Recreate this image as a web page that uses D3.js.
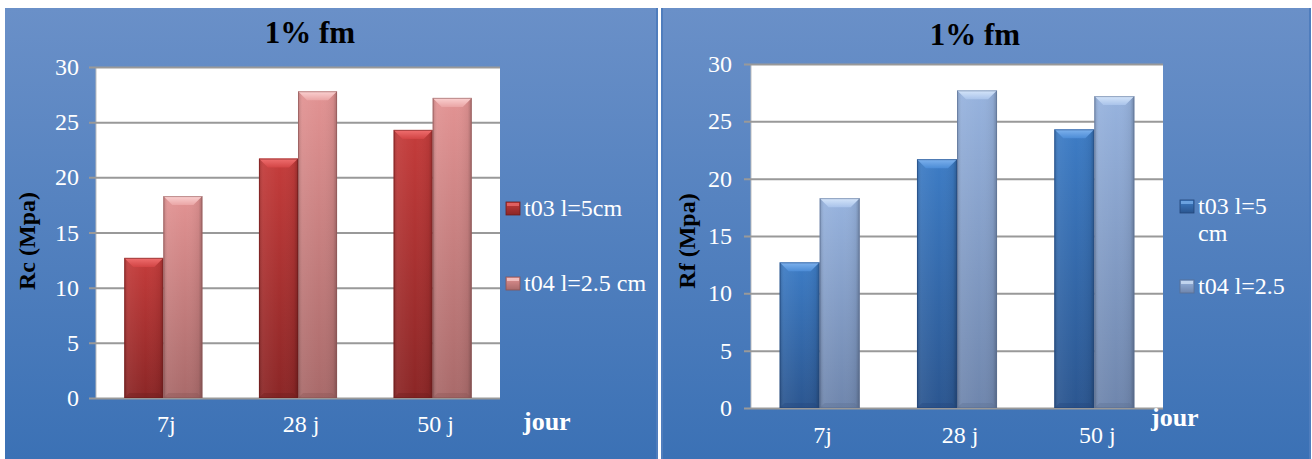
<!DOCTYPE html>
<html>
<head>
<meta charset="utf-8">
<script src="https://cdn.jsdelivr.net/npm/d3@7"></script>
<style>
  html, body { margin: 0; padding: 0; background: #ffffff; }
  svg { display: block; }
</style>
</head>
<body>
<svg id="chart" width="1312" height="459"></svg>
<script>
// Curing ages shared by both charts
const categories = ["7j", "28 j", "50 j"];
const yTicks = [0, 5, 10, 15, 20, 25, 30];

// Compressive strength Rc (MPa)
const rcT03 = [12.7, 21.7, 24.3];
const rcT04 = [18.3, 27.8, 27.2];

// Flexural strength Rf (MPa)
const rfT03 = [12.7, 21.7, 24.3];
const rfT04 = [18.3, 27.7, 27.2];

const rcLegend = [["t03 l=5cm"], ["t04 l=2.5 cm"]];
const rfLegend = [["t03 l=5", "cm"], ["t04 l=2.5"]];

const FONT = "'Liberation Serif', 'Times New Roman', Times, 'DejaVu Serif', serif";

const svg = d3.select("#chart").attr("font-family", FONT);
const defs = svg.append("defs");

// Panel background gradient
const bg = defs.append("linearGradient").attr("id", "bgGrad")
  .attr("x1", 0).attr("y1", 0).attr("x2", 0).attr("y2", 1);
bg.append("stop").attr("offset", "0%").attr("stop-color", "#6a90c8");
bg.append("stop").attr("offset", "100%").attr("stop-color", "#3b71b5");

// Bar palettes: body top/bottom, cap light/dark, edge
const palettes = {
  darkRed:  { top: "#c43c3b", bottom: "#8b2626", capA: "#f07070", capB: "#d24545", edge: "#6e1c1c" },
  lightRed: { top: "#e29393", bottom: "#a96a6a", capA: "#fbd2d2", capB: "#eaa5a5", edge: "#8a5454" },
  darkBlue: { top: "#3d7cc5", bottom: "#2b5690", capA: "#7fb3ee", capB: "#4c8cd6", edge: "#23467a" },
  lightBlue:{ top: "#97b3de", bottom: "#6f86ad", capA: "#d6e6fa", capB: "#a9c3ea", edge: "#5b6f92" }
};

Object.entries(palettes).forEach(([key, p]) => {
  const g = defs.append("linearGradient").attr("id", "body-" + key)
    .attr("x1", 0).attr("y1", 0).attr("x2", 0).attr("y2", 1);
  g.append("stop").attr("offset", "0%").attr("stop-color", p.top);
  g.append("stop").attr("offset", "100%").attr("stop-color", p.bottom);
  const c = defs.append("linearGradient").attr("id", "cap-" + key)
    .attr("x1", 0).attr("y1", 0).attr("x2", 0).attr("y2", 1);
  c.append("stop").attr("offset", "0%").attr("stop-color", p.capA);
  c.append("stop").attr("offset", "100%").attr("stop-color", p.capB);
  // horizontal sheen across the bar face
  const s = defs.append("linearGradient").attr("id", "sheen-" + key)
    .attr("x1", 0).attr("y1", 0).attr("x2", 1).attr("y2", 0);
  s.append("stop").attr("offset", "0%").attr("stop-color", "#000").attr("stop-opacity", 0.18);
  s.append("stop").attr("offset", "12%").attr("stop-color", "#fff").attr("stop-opacity", 0.06);
  s.append("stop").attr("offset", "55%").attr("stop-color", "#fff").attr("stop-opacity", 0.0);
  s.append("stop").attr("offset", "90%").attr("stop-color", "#000").attr("stop-opacity", 0.06);
  s.append("stop").attr("offset", "100%").attr("stop-color", "#000").attr("stop-opacity", 0.25);
});

function drawBar(g, x, y, w, h, key) {
  const p = palettes[key];
  const b = Math.min(9, h / 2);
  g.append("rect").attr("x", x).attr("y", y).attr("width", w).attr("height", h)
    .attr("fill", `url(#body-${key})`);
  g.append("rect").attr("x", x).attr("y", y).attr("width", w).attr("height", h)
    .attr("fill", `url(#sheen-${key})`);
  // bevelled top face
  g.append("path")
    .attr("d", `M${x},${y} L${x + w},${y} L${x + w - b},${y + b} L${x + b},${y + b} Z`)
    .attr("fill", `url(#cap-${key})`);
  // bevelled bottom face
  const bb = Math.min(5, h / 4);
  g.append("path")
    .attr("d", `M${x},${y + h} L${x + w},${y + h} L${x + w - bb},${y + h - bb} L${x + bb},${y + h - bb} Z`)
    .attr("fill", p.edge).attr("opacity", 0.35);
  g.append("rect").attr("x", x + 0.5).attr("y", y + 0.5).attr("width", w - 1).attr("height", h - 1)
    .attr("fill", "none").attr("stroke", p.edge).attr("stroke-opacity", 0.55).attr("stroke-width", 1);
}

function drawPanel(cfg) {
  const g = svg.append("g");
  // background
  g.append("rect").attr("x", cfg.box[0]).attr("y", cfg.box[1])
    .attr("width", cfg.box[2]).attr("height", cfg.box[3]).attr("fill", "url(#bgGrad)");
  if (cfg.edgeLeft) g.append("rect").attr("x", cfg.box[0]).attr("y", cfg.box[1])
    .attr("width", 2).attr("height", cfg.box[3]).attr("fill", "#4f7dbd");
  if (cfg.edgeRight) g.append("rect").attr("x", cfg.box[0] + cfg.box[2] - 2).attr("y", cfg.box[1])
    .attr("width", 2).attr("height", cfg.box[3]).attr("fill", "#4f7dbd");

  const [px0, px1, py0, py1] = cfg.plot; // left, right, top(30), bottom(0)
  const y = d3.scaleLinear().domain([0, 30]).range([py1, py0]);
  const x0 = d3.scaleBand().domain(categories).range([px0, px1])
    .paddingInner(cfg.padInner).paddingOuter(cfg.padInner / 2);
  const x1 = d3.scaleBand().domain(["a", "b"]).range([0, x0.bandwidth()]).padding(0);

  // plot area
  g.append("rect").attr("x", px0).attr("y", py0).attr("width", px1 - px0).attr("height", py1 - py0)
    .attr("fill", "#ffffff");
  g.append("line").attr("x1", px0).attr("x2", px0).attr("y1", py0).attr("y2", py1)
    .attr("stroke", "#bdbdbd").attr("stroke-width", 1);

  // gridlines + y axis
  const yAxis = d3.axisLeft(y).tickValues(yTicks).tickSize(-(px1 - px0 + 7)).tickPadding(0)
    .tickFormat(d3.format("d"));
  const ya = g.append("g").attr("transform", `translate(${px1},0)`).call(yAxis);
  ya.select(".domain").remove();
  ya.selectAll(".tick line").attr("stroke", "#999999").attr("stroke-width", 2)
    .attr("x1", 0).attr("x2", -(px1 - px0 + 7));
  ya.selectAll(".tick text").remove();
  g.append("g").selectAll("text").data(yTicks).join("text")
    .attr("x", cfg.tickLabelX).attr("y", d => y(d) + 8)
    .attr("text-anchor", "end").attr("fill", "#ffffff")
    .attr("font-size", 24).text(d => d);

  // bars
  const groups = g.append("g").selectAll("g").data(categories).join("g")
    .attr("transform", d => `translate(${x0(d)},0)`);
  groups.each(function (c, i) {
    const gg = d3.select(this);
    [["a", cfg.s1[i], cfg.colors[0]], ["b", cfg.s2[i], cfg.colors[1]]].forEach(([k, v, key]) => {
      drawBar(gg, x1(k), y(v), x1.bandwidth(), y(0) - y(v), key);
    });
  });

  // x category labels
  g.append("g").selectAll("text").data(categories).join("text")
    .attr("x", d => x0(d) + x0.bandwidth() / 2 + 3).attr("y", cfg.xLabelY)
    .attr("text-anchor", "middle").attr("fill", "#ffffff").attr("font-size", 24)
    .text(d => d);

  // titles
  g.append("text").attr("x", cfg.titleX).attr("y", cfg.titleY).attr("text-anchor", "middle")
    .attr("font-size", 31).attr("font-weight", "bold").attr("fill", "#000").text("1% fm");
  g.append("text").attr("transform", `translate(${cfg.yTitle[0]},${cfg.yTitle[1]}) rotate(-90)`)
    .attr("text-anchor", "middle").attr("font-size", 24).attr("font-weight", "bold")
    .attr("fill", "#000").text(cfg.yLabel);
  g.append("text").attr("x", cfg.jour[0]).attr("y", cfg.jour[1])
    .attr("font-size", 26).attr("font-weight", "bold").attr("fill", "#ffffff").text("jour");

  // legend
  cfg.legend.forEach((lines, i) => {
    const [lx, ly] = cfg.legendPos[i];
    const key = cfg.colors[i];
    const sq = g.append("g");
    sq.append("rect").attr("x", lx).attr("y", ly - 13).attr("width", 14).attr("height", 13)
      .attr("fill", `url(#body-${key})`).attr("stroke", palettes[key].edge).attr("stroke-width", 0.8);
    sq.append("rect").attr("x", lx + 1).attr("y", ly - 12).attr("width", 12).attr("height", 3)
      .attr("fill", palettes[key].capA).attr("opacity", 0.7);
    lines.forEach((t, j) => {
      g.append("text").attr("x", lx + 18).attr("y", ly + 1 + j * 27)
        .attr("font-size", 24).attr("fill", "#ffffff").text(t);
    });
  });
}

drawPanel({
  box: [5, 8, 653, 451], edgeRight: true,
  plot: [96, 500, 67, 398], padInner: 0.42,
  s1: rcT03, s2: rcT04, colors: ["darkRed", "lightRed"],
  tickLabelX: 79, xLabelY: 432, titleX: 310, titleY: 43,
  yLabel: "Rc (Mpa)", yTitle: [35, 241], jour: [523, 430],
  legend: rcLegend, legendPos: [[506, 215], [506, 290]]
});

drawPanel({
  box: [661, 8, 650, 451], edgeLeft: true, edgeRight: true,
  plot: [751, 1163, 64, 408], padInner: 0.417,
  s1: rfT03, s2: rfT04, colors: ["darkBlue", "lightBlue"],
  tickLabelX: 732, xLabelY: 443, titleX: 975, titleY: 45,
  yLabel: "Rf (Mpa)", yTitle: [695, 241], jour: [1151, 426],
  legend: rfLegend, legendPos: [[1180, 213], [1180, 293]]
});
</script>
</body>
</html>
